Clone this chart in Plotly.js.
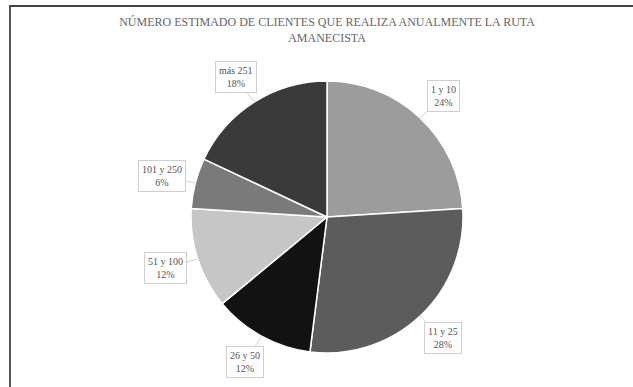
<!DOCTYPE html>
<html>
<head>
<meta charset="utf-8">
<script src="https://cdn.plot.ly/plotly-3.0.1.min.js"></script>
<style>
html,body{margin:0;padding:0;background:#fff;}
#wrap{position:relative;width:633px;height:387px;overflow:hidden;}
#chart{position:absolute;left:0;top:0;width:633px;height:387px;}
#frame{position:absolute;left:9px;top:5px;width:640px;height:400px;border-top:2px solid #444;border-left:2px solid #555;pointer-events:none;}
</style>
</head>
<body>
<div id="wrap"><div id="chart"></div><div id="frame"></div></div>
<script>
const categories = ['1 y 10', '11 y 25', '26 y 50', '51 y 100', '101 y 250', 'más 251'];
const values = [24, 28, 12, 12, 6, 18];
const sliceColors = ['#9c9c9c', '#5c5c5c', '#121212', '#c6c6c6', '#7a7a7a', '#3a3a3a'];

const W = 633, H = 387;
const M = {l: 21, r: 0, t: 81, b: 34};
const pw = W - M.l - M.r, ph = H - M.t - M.b;
const cx = M.l + pw / 2, cy = M.t + ph / 2;
const rad = Math.min(pw, ph) / 2;
const total = values.reduce((a, b) => a + b, 0);

const annotations = [];
let cum = 0;
values.forEach((v, i) => {
  const mid = (cum + v / 2) / total;
  cum += v;
  const th = 2 * Math.PI * mid;
  const s = Math.sin(th), c = Math.cos(th);
  const px = cx + rad * s, py = cy - rad * c;
  const pct = Math.round(100 * v / total) + '%';
  annotations.push({
    xref: 'paper', yref: 'paper',
    x: (px - M.l) / pw, y: 1 - (py - M.t) / ph,
    showarrow: true, arrowhead: 0, arrowwidth: 0.8, arrowcolor: '#c8c8c8',
    ax: 34 * s, ay: -30 * c,
    text: categories[i] + '<br>' + pct,
    font: {family: 'Liberation Serif, DejaVu Serif, serif', size: 10, color: '#555'},
    bordercolor: '#cfcfcf', borderwidth: 1, borderpad: 3, bgcolor: '#fff'
  });
});

const data = [{
  type: 'pie',
  labels: categories,
  values: values,
  sort: false,
  direction: 'clockwise',
  rotation: 0,
  textinfo: 'none',
  hoverinfo: 'none',
  marker: {colors: sliceColors, line: {color: '#ffffff', width: 1.5}}
}];

const layout = {
  width: W, height: H,
  margin: M,
  showlegend: false,
  paper_bgcolor: '#fff',
  title: {
    text: 'NÚMERO ESTIMADO DE CLIENTES QUE REALIZA ANUALMENTE LA RUTA<br>AMANECISTA',
    font: {family: 'Liberation Serif, DejaVu Serif, serif', size: 12, color: '#666'},
    xref: 'paper', x: 0.5, xanchor: 'center',
    yref: 'container', y: 1 - 26 / H, yanchor: 'top'
  },
  annotations: annotations
};

Plotly.newPlot('chart', data, layout, {staticPlot: true, displayModeBar: false});
</script>
</body>
</html>
